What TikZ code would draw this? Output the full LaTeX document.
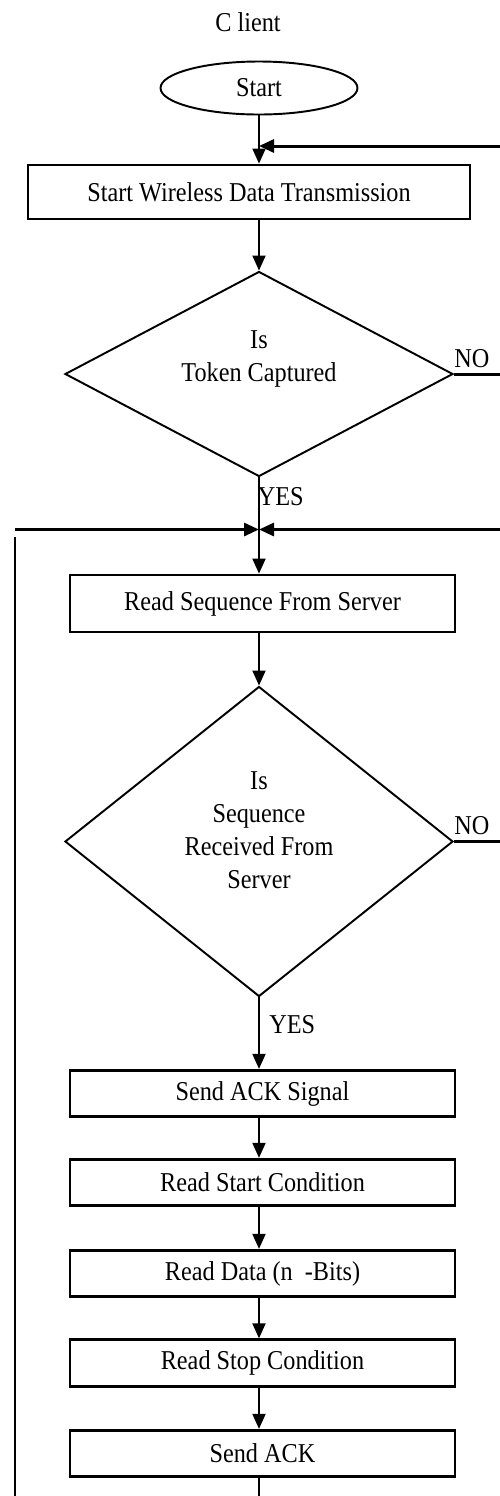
\documentclass[tikz,border=0pt]{standalone}
\usepackage{fontspec}
\setmainfont{Liberation Serif}[FakeStretch=0.89]
\usepackage{tikz}
\usetikzlibrary{arrows.meta, shapes.geometric}

\begin{document}
\begin{tikzpicture}[
      font=\fontsize{15.5}{18.8}\selectfont,
      terminal/.style={ellipse, draw, line width=1.1pt, minimum width=3.94cm, minimum height=1.06cm, inner sep=0pt},
      proc/.style={rectangle, draw, line width=1.6pt, minimum width=7.7cm, minimum height=0.93cm, inner sep=0pt},
      decide/.style={diamond, draw, line width=1.1pt, align=center, inner sep=0pt, minimum width=7.76cm},
      wire/.style={line width=1.1pt},
      flow/.style={wire, -{Triangle[length=3mm, width=2.6mm]}},
      loopback/.style={line width=1.7pt, -{Triangle[length=3mm, width=2.6mm]}},
      tag/.style={inner sep=0pt}
    ]
      \useasboundingbox (0,0) rectangle (10,-29.92);

      \node[tag] (title) at (4.96,-0.44) {C lient};

      \node[terminal] (S) at (5.18,-1.76) {Start};
      \node[proc, minimum width=8.84cm, minimum height=1.08cm] (B1) at (4.98,-3.84) {Start Wireless Data Transmission};
      \node[decide, minimum height=4.1cm, aspect=1.9, text depth=0.72cm] (D1) at (5.18,-7.48) {Is\\Token Captured};
      \node[proc, minimum height=1.14cm] (B2) at (5.25,-12.07) {Read Sequence From Server};
      \node[decide, minimum height=6.2cm, aspect=1.25, text depth=0.45cm] (D2) at (5.18,-16.83) {Is\\Sequence\\Received From\\Server};

      \node[proc] (B3) at (5.25,-21.87) {Send ACK Signal};
      \node[proc] (B4) at (5.25,-23.65) {Read Start Condition};
      \node[proc] (B5) at (5.25,-25.47) {Read Data (n\ \ -Bits)};
      \node[proc] (B6) at (5.25,-27.26) {Read Stop Condition};
      \node[proc] (B7) at (5.25,-29.07) {Send ACK};

      % loose ends of the return paths
      \coordinate (fbT) at (10,-2.92);
      \coordinate (no1) at (10,-7.48);
      \coordinate (no2) at (10,-16.83);
      \coordinate (mL) at (0.30,-10.59);
      \coordinate (mR) at (10,-10.59);
      \coordinate (lT) at (0.30,-10.74);
      \coordinate (lB) at (0.30,-29.92);
      \coordinate (end) at (5.18,-29.92);

      % main flow
      \draw[flow] (S.south) -- (S |- B1.north);
      \draw[flow] (S |- B1.south) -- (D1.north);
      \draw[flow] (D1.south) -- (S |- B2.north);
      \draw[flow] (S |- B2.south) -- (D2.north);
      \draw[flow] (D2.south) -- (S |- B3.north);
      \draw[flow] (S |- B3.south) -- (S |- B4.north);
      \draw[flow] (S |- B4.south) -- (S |- B5.north);
      \draw[flow] (S |- B5.south) -- (S |- B6.north);
      \draw[flow] (S |- B6.south) -- (S |- B7.north);
      \draw[wire] (S |- B7.south) -- (end);

      \node[tag, anchor=north west] at ([xshift=-0.03cm, yshift=-0.2cm]D1.south) {YES};
      \node[tag, anchor=north west] at ([xshift=0.2cm, yshift=-0.36cm]D2.south) {YES};

      % NO branches
      \draw[line width=1.7pt] (D1.east) -- (no1);
      \draw[line width=1.7pt] (D2.east) -- (no2);
      \node[tag, anchor=south west] at ([yshift=0.12cm]D1.east) {NO};
      \node[tag, anchor=south west] at ([yshift=0.12cm]D2.east) {NO};

      % return paths
      \draw[loopback] (fbT) -- (S |- fbT);
      \draw[loopback] (mL) -- (S |- mL);
      \draw[loopback] (mR) -- (S |- mR);
      \draw[line width=1.7pt] (lT) -- (lB);
    \end{tikzpicture}
\end{document}
